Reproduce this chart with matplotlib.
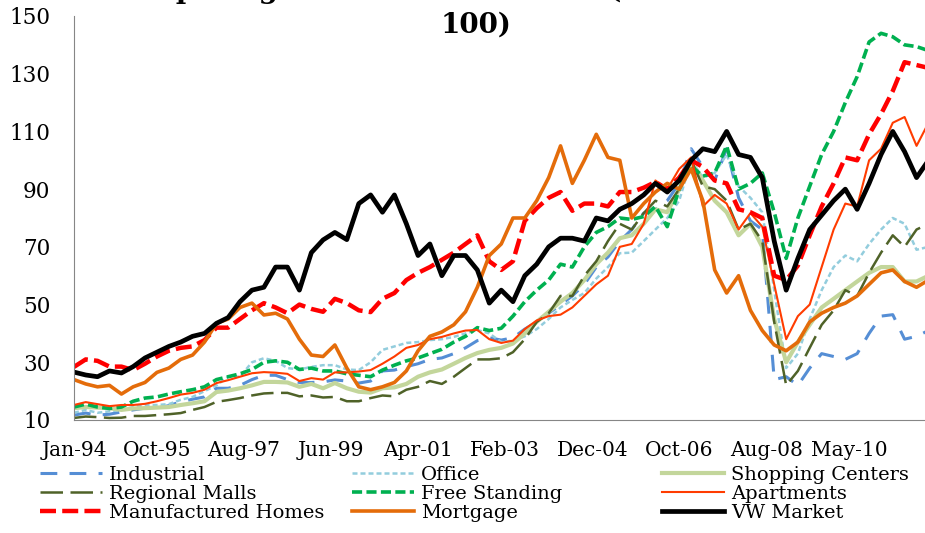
import matplotlib
matplotlib.use("Agg")
import matplotlib.pyplot as plt
import pandas as pd

plt.rcParams['font.family'] = ['DejaVu Serif']

# quarterly readings, Jan-94 .. Jan-12
dates = pd.date_range('1994-01-01', '2012-01-01', freq='QS')

industrial = [11.7, 12.4, 11.7, 12, 12.8, 13.5, 14.1, 14.1, 15, 16.3,
              17.2, 18, 21, 21, 22, 24, 25.5, 25.5, 24, 23,
              23, 23.2, 23.9, 23.5, 22.8, 23.5, 27, 27.3, 28.5, 29.5,
              31, 31.5, 33, 35, 37.5, 38.5, 37.7, 38.5, 41.5, 44,
              47, 50, 53, 57, 63, 66.5, 72, 76, 81.7, 83,
              86, 92, 104, 97.7, 93, 104, 87, 79, 76, 24,
              25, 22, 28, 33, 32, 31, 33, 40, 46, 46.5,
              38, 39, 41]
office = [12.5, 13.5, 12.5, 13, 13.5, 14.5, 15.2, 15.2, 15.5, 17,
          18, 20, 22, 25, 25, 30, 31.4, 30.5, 28, 27.5,
          28.4, 29, 29, 27.5, 27.3, 30, 34.3, 35.5, 36.7, 37,
          37.7, 38, 38.8, 40, 41.2, 40, 37, 37.5, 39, 41.5,
          45, 49, 51.6, 54, 59, 63, 67.8, 68, 72, 76,
          80, 86, 100, 94, 95.6, 102, 91, 87, 82, 55,
          28, 33, 45, 55, 63, 67, 65, 71, 76, 80,
          78, 69, 70]
shopping = [14.1, 14.5, 14.3, 14.1, 13.5, 14, 14.1, 14.3, 14.5, 15.2,
            15.8, 16.5, 19.7, 20.2, 21, 22, 23.2, 23.2, 23, 21.5,
            22.5, 21, 22.8, 21, 19.8, 19.5, 21, 21.3, 22.5, 25,
            26.5, 27.5, 29.5, 31.5, 33.2, 34.3, 35, 36.5, 40, 44,
            47.5, 51, 54, 58.5, 64, 68, 73, 74, 78, 83,
            82, 90, 99, 93, 86, 82, 74, 78, 70, 45,
            30, 37, 43, 49, 52, 55, 58, 61, 63, 63,
            58, 58, 60]
malls = [10.7, 11.2, 11, 10.7, 10.8, 11.4, 11.4, 11.7, 12, 12.4,
         13.5, 14.5, 16.3, 16.9, 17.6, 18.5, 19.2, 19.4, 19.4, 18.2,
         18.5, 17.8, 18, 16.5, 16.5, 17.6, 18.5, 18.2, 20.5, 21.5,
         23.5, 22.5, 25, 28, 31, 31, 31.4, 33.5, 38, 44,
         47, 53, 53, 60, 65, 72, 78, 76, 81.7, 86,
         84, 90, 100, 91, 90, 86, 76, 78, 72, 44,
         22, 27, 35, 43, 48, 55, 53, 61, 68, 74,
         70, 76, 78]
free_standing = [14.5, 15.5, 14.5, 14, 14.5, 16.5, 17.6, 18, 19, 19.8,
                 20.5, 21.5, 24, 25, 26, 27.5, 30, 30.5, 30, 27.5,
                 28, 27, 27, 26, 25.5, 25, 27.3, 29, 30.5, 31.5,
                 33, 34.5, 37, 39, 42, 41, 41.8, 46, 51, 55,
                 58.5, 64, 63, 70, 75, 77, 80, 79.5, 80.5, 84,
                 77, 90, 98, 94.5, 95.6, 105, 90, 92, 95.6, 82,
                 66, 80, 91, 102, 110, 120, 129, 141, 144, 142.8,
                 140, 139.4, 138]
apartments = [15.2, 16.2, 15.5, 14.8, 15.2, 15.2, 15.6, 16.5, 17.6, 18.8,
              19.4, 20.5, 22.8, 23.8, 25, 26.2, 26.6, 26.4, 26, 23.5,
              24.5, 24, 26.5, 26.5, 26.8, 27.3, 29.5, 32, 35, 36,
              38, 38.8, 40, 41, 41.2, 38, 36.7, 37.5, 41.5, 44.5,
              46, 46.5, 49, 53, 57, 60, 70, 71, 78, 93,
              90, 97, 101, 84, 88, 85, 76, 81.7, 77, 57,
              38, 46, 50, 63, 76, 85, 84, 100, 104, 113,
              115, 105, 113]
manufactured = [28.4, 31, 30.5, 28.5, 28.5, 27.3, 29.5, 32, 34, 35,
                35.5, 37.7, 42, 42, 45, 48, 50.5, 49, 47, 50,
                48.5, 47.5, 52, 50.5, 48, 47.4, 52, 54, 58.5, 61,
                63, 65.5, 68, 71, 74, 65, 62, 65, 79, 83.4,
                87, 89, 82.5, 85, 85, 84, 89, 89, 90.5, 92.5,
                90, 94, 100, 97.7, 93, 92, 83, 82, 80, 60,
                58.5, 63.5, 74, 84, 92, 101, 100, 109, 116, 124,
                134, 133, 132]
mortgage = [24, 22.5, 21.5, 22, 19, 21.5, 23, 26.5, 28, 31,
            32.5, 37, 43.5, 45, 49, 50.5, 46.4, 47, 45, 38,
            32.5, 32, 36, 28, 21.5, 20.5, 21.5, 23, 27, 34,
            39, 40.5, 43, 47.5, 56, 67, 71, 80, 80, 86,
            94, 105, 92, 100, 109, 101, 100, 80, 85, 89,
            92, 90, 97, 86, 62, 54, 60, 48, 41, 36,
            34, 37, 44, 47, 49, 50.5, 53, 57, 61, 62,
            58, 56, 58.5]
vw_market = [26.6, 25.6, 25, 27, 26.3, 28.5, 31.5, 33.5, 35.5, 37,
             39, 40, 43.5, 45.5, 51, 55, 56, 63, 63, 55,
             68, 72.4, 75, 72.5, 85, 88, 82, 88, 78, 67,
             71, 60, 67, 67, 62, 50.5, 55, 51, 60, 64,
             70, 73, 73, 72, 80, 79, 83, 85, 88, 92,
             89, 93, 100, 104, 103, 110, 102, 101, 94, 72,
             55, 66, 76, 81, 86, 90, 83, 92, 102, 110,
             103, 94, 100]

tick_dates = ['1994-01', '1995-10', '1997-08', '1999-06', '2001-04',
              '2003-02', '2004-12', '2006-10', '2008-08', '2010-05']
tick_labels = ['Jan-94', 'Oct-95', 'Aug-97', 'Jun-99', 'Apr-01',
               'Feb-03', 'Dec-04', 'Oct-06', 'Aug-08', 'May-10']

# name, data, colour, width, dash
series = [
    ('Industrial', industrial, '#558ED5', 2.2, (0, (5.5, 4))),
    ('Office', office, '#93CDDD', 1.8, (0, (2, 1.2))),
    ('Shopping Centers', shopping, '#C3D69B', 3.0, '-'),
    ('Regional Malls', malls, '#4F6228', 1.8, (0, (9, 3))),
    ('Free Standing', free_standing, '#00B050', 2.6, (0, (2.8, 1.2))),
    ('Apartments', apartments, '#FF3C00', 1.5, '-'),
    ('Manufactured Homes', manufactured, '#FF0000', 3.2, (0, (3.6, 1.4))),
    ('Mortgage', mortgage, '#E46C0A', 2.6, '-'),
    ('VW Market', vw_market, '#000000', 3.4, '-'),
]

fig = plt.figure(figsize=(9.25, 5.33), dpi=100)
ax = fig.add_axes([74/925, 1 - 420/533, 1 - 74/925, (420 - 16)/533])

handles = {}
for name, vals, col, lw, ls in series:
    ln, = ax.plot(dates, vals, color=col, lw=lw, linestyle=ls, label=name,
                  solid_joinstyle='round')
    handles[name] = ln

ax.set_ylim(10, 150)
ax.set_yticks(range(10, 151, 20))
ax.set_xlim(pd.Timestamp('1994-01-01'), pd.Timestamp('2011-12-05'))
ax.set_xticks(pd.to_datetime(tick_dates))
ax.set_xticklabels(tick_labels)
ax.tick_params(axis='both', length=0)
ax.tick_params(axis='y', pad=17, labelsize=15.5)
ax.tick_params(axis='x', pad=15, labelsize=14.5)
for s in ['top', 'right']:
    ax.spines[s].set_visible(False)
for s in ['left', 'bottom']:
    ax.spines[s].set_color('#868686')

# title (first line runs off the top of the image)
fig.text(106/925, 1 + 2/533, 'Comparing REIT Sector Indices (Dec 2006 =',
         ha='left', va='baseline', fontsize=20, fontweight='bold')
fig.text(476/925, 1 - 33/533, '100)', ha='center', va='baseline',
         fontsize=20, fontweight='bold')

# legend, three columns
cols = [['Industrial', 'Regional Malls', 'Manufactured Homes'],
        ['Office', 'Free Standing', 'Mortgage'],
        ['Shopping Centers', 'Apartments', 'VW Market']]
col_x = [40, 352, 662]
for names, x0 in zip(cols, col_x):
    fig.legend([handles[n] for n in names], names, loc='upper left',
               bbox_to_anchor=(x0/925, 1 - 466/533), frameon=False,
               fontsize=14, handlelength=3.2, handletextpad=0.35,
               labelspacing=0.05, borderpad=0, borderaxespad=0)

fig.savefig('out.png', dpi=100)
